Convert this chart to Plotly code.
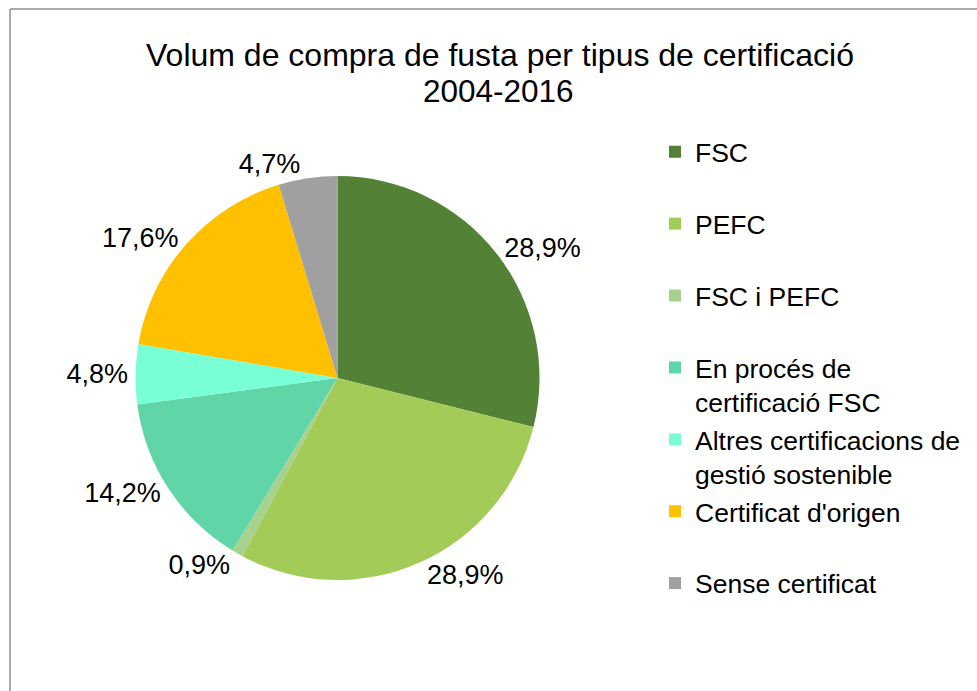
import plotly.graph_objects as go

categories = ["FSC", "PEFC", "FSC i PEFC", "En procés de<br>certificació FSC",
              "Altres certificacions de<br>gestió sostenible", "Certificat d'origen", "Sense certificat"]
values = [28.9, 28.9, 0.9, 14.2, 4.8, 17.6, 4.7]
colors = ["#538135", "#A2CB57", "#A9D18E", "#5FD5A8", "#78FFD6", "#FFC000", "#A0A0A0"]
title_line1 = "Volum de compra de fusta per tipus de certificació"
title_line2 = "2004-2016"

# pad single-line legend labels to two lines so every entry has equal height
legend_labels = [c if "<br>" in c else c + "<br> " for c in categories]

W, H = 977, 691
cx, cy, r = 337.5, 378.0, 202.0

fig = go.Figure(go.Pie(
    labels=legend_labels,
    values=values,
    sort=False,
    direction="clockwise",
    rotation=0,
    marker=dict(colors=colors, line=dict(width=0)),
    textposition="outside",
    texttemplate="%{value:.1f}%",
    textfont=dict(size=27, color="#000000"),
    domain=dict(x=[(cx - r) / W, (cx + r) / W], y=[(H - cy - r) / H, (H - cy + r) / H]),
    hoverinfo="label+percent",
))

fig.update_layout(
    width=W, height=H,
    margin=dict(l=0, r=0, t=0, b=0),
    paper_bgcolor="white",
    separators=",.",
    font=dict(family="Liberation Sans, Arial, sans-serif", color="#000000"),
    title=dict(text=title_line1,
               font=dict(size=32, color="#000000"),
               x=500 / W, xanchor="center", y=1 - 55 / H, yanchor="middle", yref="container"),
    annotations=[
        dict(text=title_line2, xref="paper", yref="paper", x=498 / W, y=1 - 91 / H,
             xanchor="center", yanchor="middle", showarrow=False,
             font=dict(size=31.5, color="#000000")),
    ],
    legend=dict(x=655 / W, xanchor="left", y=1 - 128 / H, yanchor="top",
                font=dict(size=26.5, color="#000000"), valign="top",
                bgcolor="rgba(0,0,0,0)", traceorder="normal"),
    shapes=[
        dict(type="line", xref="paper", yref="paper", x0=10 / W, x1=1, y0=1 - 9 / H, y1=1 - 9 / H,
             line=dict(color="#8C8C8C", width=1.5)),
        dict(type="line", xref="paper", yref="paper", x0=10 / W, x1=10 / W, y0=0, y1=1 - 9 / H,
             line=dict(color="#8C8C8C", width=1.5)),
    ],
)

fig.write_html("out.html", config={"displayModeBar": False},
               post_script="document.body.style.margin='0';document.body.style.overflow='hidden';")
